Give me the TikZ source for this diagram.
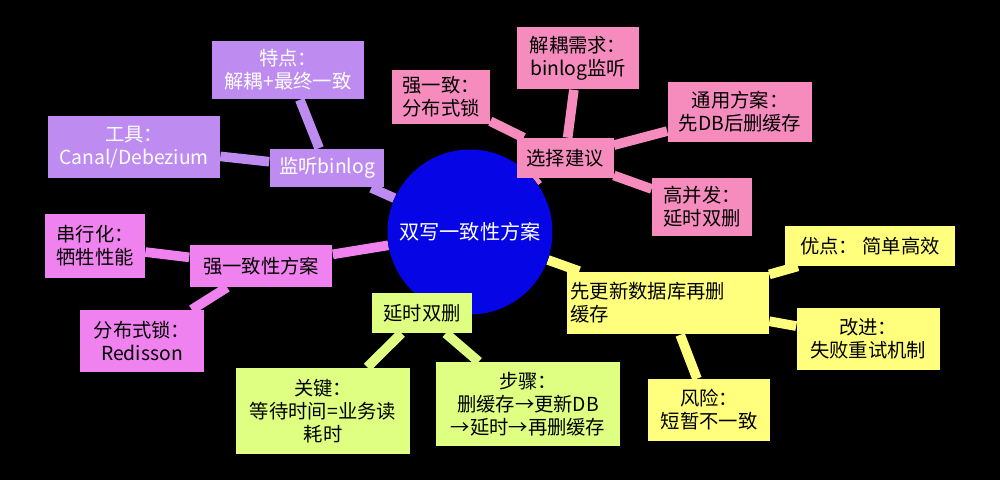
\documentclass[tikz,border=0pt]{standalone}
\usepackage{fontspec}
\setmainfont{Noto Sans CJK SC}
\usetikzlibrary{backgrounds}
\definecolor{lav}{RGB}{190,140,240}
\definecolor{rose}{RGB}{246,140,190}
\definecolor{mag}{RGB}{240,130,240}
\definecolor{lemon}{RGB}{255,255,125}
\definecolor{lime}{RGB}{222,255,130}
\definecolor{core}{RGB}{5,5,230}

\begin{document}
\begin{tikzpicture}[x=0.02cm,y=-0.02cm]
    \tikzstyle{box}=[rectangle,inner sep=2pt,align=center,font=\fontsize{11}{13}\selectfont,text=black]
    \tikzstyle{wire}=[line width=5.5pt]
    % centre
    \node[circle,fill=core,minimum size=3.3cm,text=white,font=\fontsize{11.5}{13}\selectfont] (core) at (470,232) {双写一致性方案};
    % listen binlog
    \node[box,fill=lav,text=white,minimum width=2.3cm,minimum height=0.78cm] (listen) at (327,168) {监听binlog};
    \node[box,fill=lav,text=white,minimum width=3.04cm,minimum height=1.18cm] (feature) at (288,70) {特点：\\解耦+最终一致};
    \node[box,fill=lav,text=white,minimum width=3.44cm,minimum height=1.26cm] (tool) at (134,147) {工具：\\Canal/Debezium};
    % advice
    \node[box,fill=rose,minimum width=1.94cm,minimum height=0.8cm] (advice) at (565,158) {选择建议};
    \node[box,fill=rose,minimum width=1.96cm,minimum height=1.1cm] (strong) at (441,97) {强一致：\\分布式锁};
    \node[box,fill=rose,minimum width=2.46cm,minimum height=1.26cm] (decouple) at (578,58) {解耦需求：\\binlog监听};
    \node[box,fill=rose,minimum width=2.9cm,minimum height=1.22cm] (common) at (740,112) {通用方案：\\先DB后删缓存};
    \node[box,fill=rose,minimum width=2cm,minimum height=1.16cm] (highc) at (702,207) {高并发：\\延时双删};
    % update db then delete
    \node[box,fill=lemon,align=left,text width=3.9cm,minimum height=1.26cm] (update) at (668,303) {先更新数据库再删\\缓存};
    \node[box,fill=lemon,minimum width=3.4cm,minimum height=0.8cm] (pro) at (870,246) {优点：\ 简单高效};
    \node[box,fill=lemon,minimum width=2.86cm,minimum height=1.24cm] (improve) at (868,339) {改进：\\失败重试机制};
    \node[box,fill=lemon,minimum width=2.44cm,minimum height=1.24cm] (risk) at (709,410) {风险：\\短暂不一致};
    % delayed double delete
    \node[box,fill=lime,minimum width=2cm,minimum height=0.8cm] (delay) at (422,313) {延时双删};
    \node[box,fill=lime,minimum width=3.48cm,minimum height=1.74cm] (key) at (323,411) {关键：\\等待时间=业务读\\耗时};
    \node[box,fill=lime,minimum width=3.68cm,minimum height=1.68cm] (steps) at (528,404) {步骤：\\删缓存→更新DB\\→延时→再删缓存};
    % strong consistency
    \node[box,fill=mag,minimum width=2.86cm,minimum height=0.84cm] (sc) at (261,266) {强一致性方案};
    \node[box,fill=mag,minimum width=2cm,minimum height=1.28cm] (serial) at (95,246) {串行化：\\牺牲性能};
    \node[box,fill=mag,minimum width=2.5cm,minimum height=1.24cm] (lock) at (142,341) {分布式锁：\\Redisson};
    \begin{scope}[on background layer]
        \fill[black] (0,0) rectangle (1000,480);
        \draw[wire,lav] (core) -- (listen) (listen) -- (feature) (listen) -- (tool);
        \draw[wire,rose] (core) -- (advice) (advice) -- (strong) (advice) -- (decouple) (advice) -- (common) (advice) -- (highc);
        \draw[wire,lemon] (core) -- (update) (update) -- (pro) (update) -- (improve) (update) -- (risk);
        \draw[wire,lime] (core) -- (delay) (delay) -- (key) (delay) -- (steps);
        \draw[wire,mag] (core) -- (sc) (sc) -- (serial) (sc) -- (lock);
    \end{scope}
\end{tikzpicture}
\end{document}
